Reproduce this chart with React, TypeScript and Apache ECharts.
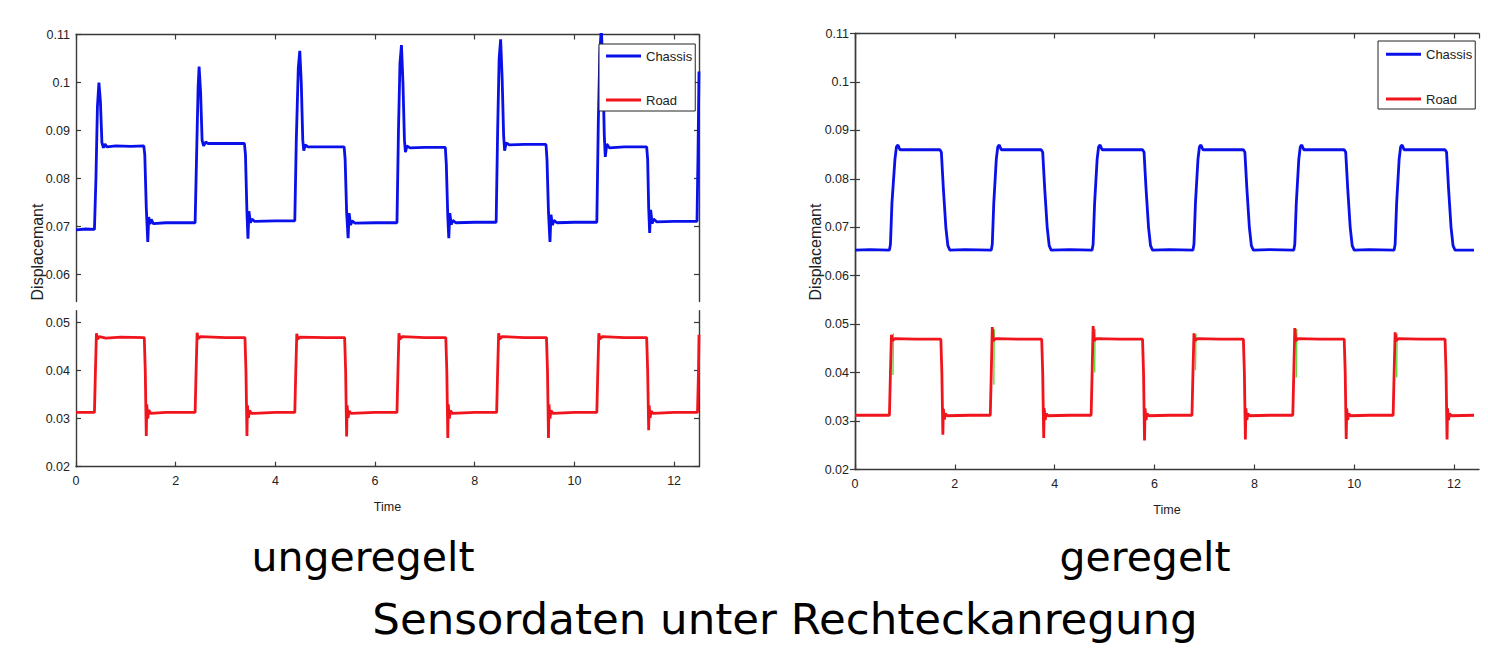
import React, { useEffect, useRef } from "react";
import * as echarts from "echarts";

// ---------- data (time in s, displacement) ----------
const chassisUngeregelt: [number, number][] = [
  [0, 0.0693], [0.2, 0.0695], [0.37, 0.0694], [0.4, 0.08], [0.43, 0.095], [0.46, 0.1], [0.49, 0.096], [0.52, 0.0875], [0.55, 0.0864], [0.58, 0.0872], [0.62, 0.0866], [0.8, 0.0868], [1.1, 0.0867], [1.36, 0.0868],
  [1.38, 0.085], [1.41, 0.074], [1.44, 0.0668], [1.46, 0.072], [1.48, 0.0705], [1.51, 0.0715], [1.55, 0.0706], [1.8, 0.0708], [2.39, 0.0708],
  [2.42, 0.085], [2.45, 0.099], [2.47, 0.1033], [2.5, 0.098], [2.53, 0.088], [2.56, 0.0868], [2.6, 0.0876], [2.65, 0.0873], [3.0, 0.0873], [3.38, 0.0873],
  [3.4, 0.085], [3.43, 0.073], [3.45, 0.0675], [3.47, 0.0732], [3.5, 0.0708], [3.53, 0.0716], [3.58, 0.0711], [4.0, 0.0712], [4.39, 0.0712],
  [4.42, 0.088], [4.46, 0.103], [4.49, 0.1066], [4.52, 0.1], [4.55, 0.088], [4.57, 0.0858], [4.6, 0.087], [4.65, 0.0866], [5.0, 0.0866], [5.38, 0.0866],
  [5.4, 0.084], [5.43, 0.073], [5.46, 0.0676], [5.48, 0.0728], [5.51, 0.0703], [5.54, 0.0712], [5.6, 0.0707], [6.0, 0.0708], [6.44, 0.0708],
  [6.47, 0.09], [6.5, 0.104], [6.53, 0.1078], [6.56, 0.1], [6.59, 0.088], [6.61, 0.0855], [6.64, 0.0868], [6.7, 0.0864], [7.0, 0.0865], [7.41, 0.0865],
  [7.43, 0.083], [7.46, 0.072], [7.48, 0.0676], [7.5, 0.0728], [7.53, 0.0704], [7.56, 0.0713], [7.62, 0.0708], [8.0, 0.0709], [8.43, 0.0709],
  [8.46, 0.09], [8.49, 0.105], [8.52, 0.109], [8.55, 0.101], [8.58, 0.089], [8.6, 0.0858], [8.63, 0.0874], [8.7, 0.087], [9.0, 0.0871], [9.43, 0.0871],
  [9.45, 0.084], [9.48, 0.073], [9.51, 0.0668], [9.53, 0.0725], [9.56, 0.0703], [9.59, 0.0713], [9.65, 0.0708], [10.0, 0.0709], [10.45, 0.0709],
  [10.48, 0.092], [10.51, 0.106], [10.54, 0.1115], [10.57, 0.103], [10.6, 0.089], [10.62, 0.0845], [10.65, 0.0872], [10.7, 0.0864], [11.0, 0.0866], [11.45, 0.0866],
  [11.47, 0.084], [11.49, 0.074], [11.51, 0.0687], [11.53, 0.0735], [11.56, 0.0706], [11.59, 0.0716], [11.65, 0.071], [12.0, 0.0711], [12.46, 0.0711],
  [12.48, 0.085], [12.5, 0.1023],
];

const roadUngeregelt: [number, number][] = [
  [0, 0.0313], [0.37, 0.0313], [0.39, 0.04], [0.41, 0.0478], [0.43, 0.0466], [0.47, 0.0471], [0.6, 0.0468], [0.9, 0.047], [1.37, 0.0469],
  [1.39, 0.04], [1.41, 0.0264], [1.42, 0.033], [1.44, 0.03], [1.46, 0.0318], [1.5, 0.0311], [1.8, 0.0313], [2.39, 0.0313],
  [2.41, 0.04], [2.43, 0.0479], [2.45, 0.0467], [2.5, 0.0471], [3.0, 0.0469], [3.39, 0.0469],
  [3.41, 0.04], [3.43, 0.0264], [3.44, 0.0328], [3.46, 0.0302], [3.48, 0.0317], [3.52, 0.0311], [4.0, 0.0313], [4.39, 0.0313],
  [4.41, 0.04], [4.43, 0.0477], [4.45, 0.0466], [4.5, 0.047], [5.0, 0.0469], [5.39, 0.0469],
  [5.41, 0.04], [5.43, 0.0263], [5.44, 0.0328], [5.46, 0.0302], [5.48, 0.0316], [5.52, 0.0311], [6.0, 0.0313], [6.44, 0.0313],
  [6.46, 0.04], [6.48, 0.0478], [6.5, 0.0466], [6.55, 0.0471], [7.0, 0.0469], [7.42, 0.0469],
  [7.44, 0.04], [7.46, 0.026], [7.47, 0.033], [7.49, 0.03], [7.51, 0.0317], [7.55, 0.0311], [8.0, 0.0313], [8.44, 0.0313],
  [8.46, 0.04], [8.48, 0.0478], [8.5, 0.0466], [8.55, 0.0471], [9.0, 0.0469], [9.44, 0.0469],
  [9.46, 0.04], [9.48, 0.026], [9.49, 0.033], [9.51, 0.03], [9.53, 0.0317], [9.57, 0.0311], [10.0, 0.0313], [10.45, 0.0313],
  [10.47, 0.04], [10.49, 0.0478], [10.51, 0.0466], [10.56, 0.0471], [11.0, 0.0469], [11.45, 0.0469],
  [11.47, 0.04], [11.49, 0.0276], [11.5, 0.0328], [11.52, 0.0302], [11.54, 0.0316], [11.58, 0.0311], [12.0, 0.0313], [12.47, 0.0313],
  [12.49, 0.04], [12.5, 0.0475],
];

const chassisGeregelt: [number, number][] = [
  [0, 0.0653], [0.3, 0.0654], [0.69, 0.0653], [0.71, 0.0665], [0.74, 0.075], [0.8, 0.084], [0.83, 0.0866], [0.86, 0.087], [0.9, 0.086], [1.3, 0.086], [1.7, 0.086],
  [1.73, 0.0855], [1.77, 0.078], [1.82, 0.07], [1.86, 0.0662], [1.9, 0.0653], [2.2, 0.0654], [2.73, 0.0653],
  [2.75, 0.0665], [2.78, 0.075], [2.83, 0.084], [2.86, 0.0866], [2.89, 0.087], [2.93, 0.086], [3.3, 0.086], [3.73, 0.086],
  [3.76, 0.0855], [3.8, 0.078], [3.85, 0.07], [3.89, 0.0662], [3.93, 0.0653], [4.3, 0.0654], [4.75, 0.0653],
  [4.77, 0.0665], [4.8, 0.075], [4.85, 0.084], [4.88, 0.0866], [4.91, 0.087], [4.95, 0.086], [5.3, 0.086], [5.76, 0.086],
  [5.79, 0.0855], [5.83, 0.078], [5.88, 0.07], [5.92, 0.0662], [5.96, 0.0653], [6.3, 0.0654], [6.77, 0.0653],
  [6.79, 0.0665], [6.82, 0.075], [6.87, 0.084], [6.9, 0.0866], [6.93, 0.087], [6.97, 0.086], [7.3, 0.086], [7.78, 0.086],
  [7.81, 0.0855], [7.85, 0.078], [7.9, 0.07], [7.94, 0.0662], [7.98, 0.0653], [8.3, 0.0654], [8.79, 0.0653],
  [8.81, 0.0665], [8.84, 0.075], [8.89, 0.084], [8.92, 0.0866], [8.95, 0.087], [8.99, 0.086], [9.3, 0.086], [9.8, 0.086],
  [9.83, 0.0855], [9.87, 0.078], [9.92, 0.07], [9.96, 0.0662], [10.0, 0.0653], [10.3, 0.0654], [10.8, 0.0653],
  [10.82, 0.0665], [10.85, 0.075], [10.9, 0.084], [10.93, 0.0866], [10.96, 0.087], [11.0, 0.086], [11.4, 0.086], [11.82, 0.086],
  [11.85, 0.0855], [11.89, 0.078], [11.94, 0.07], [11.98, 0.0662], [12.02, 0.0653], [12.4, 0.0653],
];

const roadGeregelt: [number, number][] = [
  [0, 0.0312], [0.69, 0.0312], [0.71, 0.04], [0.73, 0.0478], [0.75, 0.0466], [0.8, 0.047], [1.2, 0.0469], [1.72, 0.0469],
  [1.74, 0.04], [1.76, 0.0272], [1.77, 0.0325], [1.79, 0.0303], [1.81, 0.0315], [1.85, 0.0311], [2.3, 0.0312], [2.71, 0.0312],
  [2.73, 0.04], [2.75, 0.0494], [2.77, 0.0466], [2.82, 0.047], [3.3, 0.0469], [3.74, 0.0469],
  [3.76, 0.04], [3.78, 0.0265], [3.79, 0.0326], [3.81, 0.0302], [3.83, 0.0315], [3.87, 0.0311], [4.3, 0.0312], [4.73, 0.0312],
  [4.75, 0.04], [4.77, 0.0496], [4.79, 0.0466], [4.84, 0.047], [5.3, 0.0469], [5.76, 0.0469],
  [5.78, 0.04], [5.8, 0.026], [5.81, 0.0326], [5.83, 0.0302], [5.85, 0.0315], [5.89, 0.0311], [6.3, 0.0312], [6.75, 0.0312],
  [6.77, 0.04], [6.79, 0.0481], [6.81, 0.0466], [6.86, 0.047], [7.3, 0.0469], [7.78, 0.0469],
  [7.8, 0.04], [7.82, 0.0262], [7.83, 0.0326], [7.85, 0.0302], [7.87, 0.0315], [7.91, 0.0311], [8.3, 0.0312], [8.77, 0.0312],
  [8.79, 0.04], [8.81, 0.0492], [8.83, 0.0466], [8.88, 0.047], [9.3, 0.0469], [9.8, 0.0469],
  [9.82, 0.04], [9.84, 0.0263], [9.85, 0.0326], [9.87, 0.0302], [9.89, 0.0315], [9.93, 0.0311], [10.3, 0.0312], [10.78, 0.0312],
  [10.8, 0.04], [10.82, 0.0483], [10.84, 0.0466], [10.89, 0.047], [11.3, 0.0469], [11.82, 0.0469],
  [11.84, 0.04], [11.86, 0.0262], [11.87, 0.0326], [11.89, 0.0302], [11.91, 0.0315], [11.95, 0.0311], [12.4, 0.0312],
];

// green trace visible only at the rising edges (regulated case)
const greenGeregelt: [number, number | string][] = [
  [0.76, 0.0395], [0.77, 0.0481], [0.78, "-"],
  [2.78, 0.0375], [2.79, 0.049], [2.8, "-"],
  [4.8, 0.04], [4.81, 0.049], [4.82, "-"],
  [6.82, 0.0405], [6.83, 0.048], [6.84, "-"],
  [8.84, 0.039], [8.85, 0.049], [8.86, "-"],
  [10.85, 0.039], [10.86, 0.048],
];

const yTicksUpper = [0.06, 0.07, 0.08, 0.09, 0.1, 0.11];
const yTicksLower = [0.02, 0.03, 0.04, 0.05];
const legendNames = ["Chassis", "Road"];
const subtitles = ["ungeregelt", "geregelt"];
const mainTitle = "Sensordaten unter Rechteckanregung";
const yName = "Displacemant";
const xName = "Time";

const BLUE = "#0a10e8";
const RED = "#f0141c";
const GREEN = "#5fd83a";
const AXIS = "#3a3a3a";
const FONT = "'Liberation Sans', Arial, sans-serif";
const TITLE_FONT = "'DejaVu Sans', sans-serif";

const fmt = (v: number) => String(+Number(v).toFixed(3));

function yAxisBase(gridIndex: number, min: number, max: number, ticks: number[] | null, showLabel: boolean, position: string): any {
  const a: any = {
    type: "value",
    gridIndex,
    position,
    min,
    max,
    splitLine: { show: false },
    axisLine: { show: true, lineStyle: { color: AXIS, width: 1.4 } },
    axisTick: { show: true, inside: true, length: 5, lineStyle: { color: AXIS, width: 1.2 } },
    axisLabel: { show: showLabel, color: "#222", fontSize: 12.5, fontFamily: FONT, margin: 6, formatter: fmt },
  };
  if (ticks) {
    a.axisTick.customValues = ticks;
    a.axisLabel.customValues = ticks;
  } else {
    a.interval = 0.01;
  }
  return a;
}

function xAxisBase(gridIndex: number, position: string, showLabel: boolean, name?: string, nameGap?: number): any {
  return {
    type: "value",
    gridIndex,
    position,
    min: 0,
    max: 12.5,
    interval: 2,
    splitLine: { show: false },
    axisLine: { show: true, onZero: false, lineStyle: { color: AXIS, width: 1.4 } },
    axisTick: { show: true, inside: true, length: 5, lineStyle: { color: AXIS, width: 1.2 } },
    axisLabel: { show: showLabel, color: "#222", fontSize: 12.5, fontFamily: FONT, margin: 8, showMaxLabel: false },
    name: name || "",
    nameLocation: "middle",
    nameGap: nameGap || 0,
    nameTextStyle: { color: "#222", fontSize: 12.5, fontFamily: FONT },
  };
}

function legendAt(left: number, top: number, padding: number[], gap: number): any {
  return {
    data: legendNames,
    orient: "vertical",
    left,
    top,
    icon: "rect",
    itemWidth: 35,
    itemHeight: 3,
    itemGap: gap,
    padding,
    borderColor: "#222",
    borderWidth: 1,
    backgroundColor: "#fff",
    selectedMode: false,
    textStyle: { color: "#222", fontSize: 13, fontFamily: FONT },
  };
}

export default function App() {
  const ref = useRef<HTMLDivElement>(null);

  useEffect(() => {
    if (!ref.current) return;
    const chart = echarts.init(ref.current, null, { renderer: "svg" });

    const lineSeries = (name: string, data: any[], color: string, xi: number, yi: number, width = 2.8): any => ({
      name,
      type: "line",
      data,
      xAxisIndex: xi,
      yAxisIndex: yi,
      showSymbol: false,
      symbol: "none",
      color,
      lineStyle: { color, width },
      clip: true,
      silent: true,
      connectNulls: false,
    });

    const option: any = {
      animation: false,
      backgroundColor: "#ffffff",
      grid: [
        { left: 76, top: 34.5, width: 623, height: 267, outerBoundsMode: "none" },
        { left: 76, top: 310.7, width: 623, height: 156, outerBoundsMode: "none" },
        { left: 855, top: 33.5, width: 624, height: 436, outerBoundsMode: "none" },
      ],
      xAxis: [
        xAxisBase(0, "top", false),
        xAxisBase(1, "bottom", true, xName, 34),
        xAxisBase(2, "bottom", true, xName, 34),
        xAxisBase(2, "top", false),
      ],
      yAxis: [
        yAxisBase(0, 0.0544, 0.11, yTicksUpper, true, "left"),
        yAxisBase(0, 0.0544, 0.11, yTicksUpper, false, "right"),
        yAxisBase(1, 0.02, 0.0525, yTicksLower, true, "left"),
        yAxisBase(1, 0.02, 0.0525, yTicksLower, false, "right"),
        yAxisBase(2, 0.02, 0.11, null, true, "left"),
        yAxisBase(2, 0.02, 0.11, null, false, "right"),
      ],
      legend: [legendAt(599, 44, [5.5, 3, 4.5, 7], 31), legendAt(1378, 41, [6.8, 3, 3.5, 8], 31.7)],
      series: [
        lineSeries(legendNames[0], chassisUngeregelt, BLUE, 0, 0),
        lineSeries(legendNames[1], roadUngeregelt, RED, 1, 2),
        lineSeries(legendNames[0], chassisGeregelt, BLUE, 2, 4),
        lineSeries("green", greenGeregelt, GREEN, 2, 4, 1.4),
        lineSeries(legendNames[1], roadGeregelt, RED, 2, 4),
      ],
      graphic: [
        {
          type: "text",
          x: 37,
          y: 252,
          rotation: Math.PI / 2,
          style: { text: yName, fill: "#222", font: `16px ${FONT}`, textAlign: "center", textVerticalAlign: "middle" },
        },
        {
          type: "text",
          x: 815,
          y: 252,
          rotation: Math.PI / 2,
          style: { text: yName, fill: "#222", font: `16px ${FONT}`, textAlign: "center", textVerticalAlign: "middle" },
        },
        {
          type: "text",
          x: 363,
          y: 557,
          style: { text: subtitles[0], fill: "#000", font: `41px ${TITLE_FONT}`, textAlign: "center", textVerticalAlign: "middle" },
        },
        {
          type: "text",
          x: 1145,
          y: 557,
          style: { text: subtitles[1], fill: "#000", font: `41px ${TITLE_FONT}`, textAlign: "center", textVerticalAlign: "middle" },
        },
        {
          type: "text",
          x: 785,
          y: 619,
          style: { text: mainTitle, fill: "#000", font: `43.5px ${TITLE_FONT}`, textAlign: "center", textVerticalAlign: "middle" },
        },
      ],
    };

    chart.setOption(option);
    return () => chart.dispose();
  }, []);

  return (
    <div
      ref={ref}
      style={{ position: "fixed", left: 0, top: 0, width: 1488, height: 664, background: "#fff" }}
    />
  );
}
